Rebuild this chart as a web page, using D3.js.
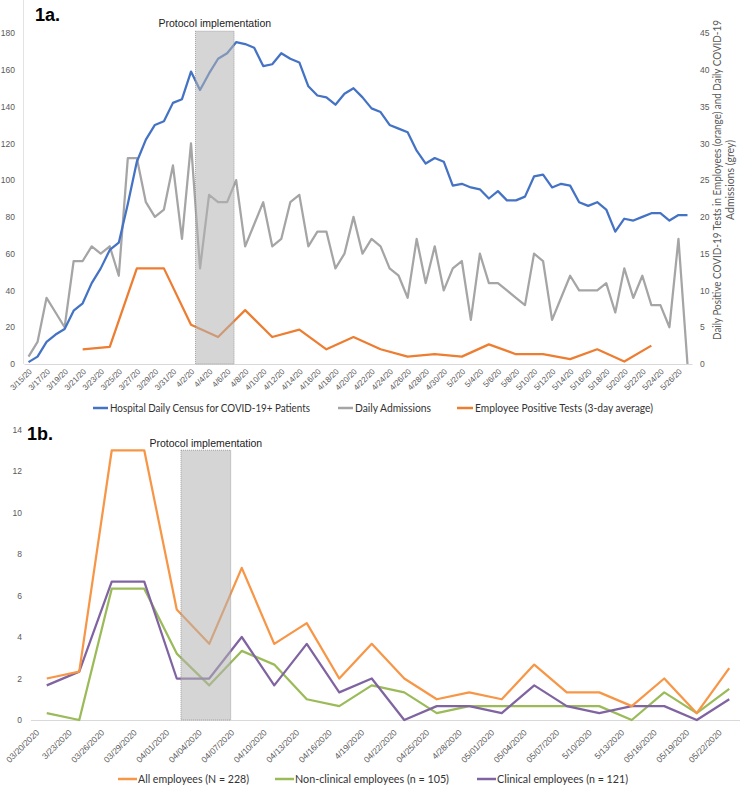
<!DOCTYPE html>
<html>
<head>
<meta charset="utf-8">
<script src="https://cdn.jsdelivr.net/npm/d3@7"></script>
<style>
  body { margin: 0; background: #fff; }
  svg { display: block; font-family: Lato, "Open Sans", sans-serif; }
  .tick text { fill: #595959; }
  .axis path.domain { stroke: #d9d9d9; }
</style>
</head>
<body>
<svg id="chart" width="740" height="788"></svg>
<script>
// ---- 1a data ----
var days = [
  "3/15/20","3/16/20","3/17/20","3/18/20","3/19/20","3/20/20","3/21/20","3/22/20","3/23/20","3/24/20",
  "3/25/20","3/26/20","3/27/20","3/28/20","3/29/20","3/30/20","3/31/20",
  "4/1/20","4/2/20","4/3/20","4/4/20","4/5/20","4/6/20","4/7/20","4/8/20","4/9/20","4/10/20",
  "4/11/20","4/12/20","4/13/20","4/14/20","4/15/20","4/16/20","4/17/20","4/18/20","4/19/20","4/20/20",
  "4/21/20","4/22/20","4/23/20","4/24/20","4/25/20","4/26/20","4/27/20","4/28/20","4/29/20","4/30/20",
  "5/1/20","5/2/20","5/3/20","5/4/20","5/5/20","5/6/20","5/7/20","5/8/20","5/9/20","5/10/20",
  "5/11/20","5/12/20","5/13/20","5/14/20","5/15/20","5/16/20","5/17/20","5/18/20","5/19/20","5/20/20",
  "5/21/20","5/22/20","5/23/20","5/24/20","5/25/20","5/26/20","5/27/20"
];
var census = [
  1, 4, 12, 16, 19, 29, 33, 44, 52, 62,
  66, 87, 110, 122, 130, 132, 142,
  144, 159, 149, 158, 166, 169, 175, 174, 172, 162,
  163, 169, 166, 164, 151, 146, 145, 141, 147, 150,
  145, 139, 137, 130, 128, 126, 116, 109, 112, 110,
  97, 98, 96, 95, 90, 94, 89, 89, 91, 102,
  103, 96, 98, 97, 88, 86, 88, 84, 72, 79,
  78, 80, 82, 82, 78, 81, 81
];
var admissions = [
  1, 3, 9, 7, 5, 14, 14, 16, 15, 16,
  12, 28, 28, 22, 20, 21, 27,
  17, 30, 13, 23, 22, 22, 25, 16, 19, 22,
  16, 17, 22, 23, 16, 18, 18, 13, 15, 20,
  15, 17, 16, 13, 12, 9, 17, 11, 16, 10,
  13, 14, 6, 15, 11, 11, 10, 9, 8, 15,
  14, 6, 9, 12, 10, 10, 10, 11, 7, 13,
  9, 12, 8, 8, 5, 17, 0
];
var empDays = ["3/21/20","3/24/20","3/27/20","3/30/20","4/2/20","4/5/20","4/8/20","4/11/20",
  "4/14/20","4/17/20","4/20/20","4/23/20","4/26/20","4/29/20","5/2/20","5/5/20","5/8/20",
  "5/11/20","5/14/20","5/17/20","5/20/20","5/23/20"];
var empTests = [2, 2.33, 13, 13, 5.33, 3.67, 7.33, 3.67, 4.67, 2, 3.67, 2, 1, 1.33, 1, 2.67,
  1.33, 1.33, 0.67, 2, 0.33, 2.5];
var leftTicks = [0, 20, 40, 60, 80, 100, 120, 140, 160, 180];
var rightTicks = [0, 5, 10, 15, 20, 25, 30, 35, 40, 45];
var dayTicks = days.filter(function(d, i) { return i % 2 === 0; });
var legendA = ["Hospital Daily Census for COVID-19+ Patients", "Daily Admissions", "Employee Positive Tests (3-day average)"];

// ---- 1b data ----
var dates2 = ["03/20/2020","3/23/2020","03/26/2020","03/29/2020","04/01/2020","04/04/2020",
  "04/07/2020","04/10/2020","04/13/2020","04/16/2020","4/19/2020","04/22/2020","04/25/2020",
  "4/28/2020","05/01/2020","05/04/2020","05/07/2020","5/10/2020","5/13/2020","05/16/2020",
  "05/19/2020","05/22/2020"];
var allEmp      = [2, 2.33, 13, 13, 5.33, 3.67, 7.33, 3.67, 4.67, 2, 3.67, 2, 1, 1.33, 1, 2.67, 1.33, 1.33, 0.67, 2, 0.33, 2.5];
var nonClinical = [0.33, 0, 6.33, 6.33, 3.2, 1.67, 3.33, 2.67, 1, 0.67, 1.67, 1.33, 0.33, 0.67, 0.67, 0.67, 0.67, 0.67, 0, 1.33, 0.33, 1.5];
var clinical    = [1.67, 2.33, 6.67, 6.67, 2, 2, 4, 1.67, 3.67, 1.33, 2, 0, 0.67, 0.67, 0.33, 1.67, 0.67, 0.33, 0.67, 0.67, 0, 1];
var yTicks2 = [0, 2, 4, 6, 8, 10, 12, 14];
var legendB = ["All employees (N = 228)", "Non-clinical employees (n = 105)", "Clinical employees (n = 121)"];

var svg = d3.select("#chart");

// ================= 1a =================
var x = d3.scaleBand().domain(days).range([24, 692]),
    yL = d3.scaleLinear().domain([0, 180]).range([364, 33]),
    yR = d3.scaleLinear().domain([0, 45]).range([364, 33]);
var bw = x.bandwidth();
function cx(d) { return x(d) + bw / 2; }

var g1 = svg.append("g");

g1.append("line")
    .attr("x1", 23.5).attr("x2", 23.5).attr("y1", 0).attr("y2", 364)
    .attr("stroke", "#e3e3e3");

g1.append("g")
    .attr("class", "axis")
    .attr("transform", "translate(0,364)")
    .call(d3.axisBottom(x).tickValues(dayTicks).tickSize(0).tickSizeOuter(0))
    .selectAll("text")
      .attr("y", 0).attr("dy", "0.35em")
      .attr("text-anchor", "end")
      .attr("font-size", 8)
      .attr("transform", "translate(2,6) rotate(-45)");

var axL = g1.append("g")
    .attr("transform", "translate(24,0)")
    .call(d3.axisLeft(yL).tickValues(leftTicks).tickSize(0).tickPadding(9));
axL.select(".domain").remove();
axL.selectAll("text").attr("font-size", 8.5);

var axR = g1.append("g")
    .attr("transform", "translate(692,0)")
    .call(d3.axisRight(yR).tickValues(rightTicks).tickSize(0).tickPadding(8));
axR.select(".domain").remove();
axR.selectAll("text").attr("font-size", 8.5);

var lineL = d3.line().x(function(d, i) { return cx(days[i]); }).y(function(d) { return yL(d); });
var lineR = d3.line().x(function(d, i) { return cx(days[i]); }).y(function(d) { return yR(d); });
var lineEmp = d3.line().x(function(d, i) { return cx(empDays[i]); }).y(function(d) { return yR(d); });

g1.append("path").datum(admissions)
    .attr("d", lineR).attr("fill", "none")
    .attr("stroke", "#a5a5a5").attr("stroke-width", 2.25).attr("stroke-linejoin", "round");
g1.append("path").datum(empTests)
    .attr("d", lineEmp).attr("fill", "none")
    .attr("stroke", "#ed7d31").attr("stroke-width", 2.25).attr("stroke-linejoin", "round");
g1.append("path").datum(census)
    .attr("d", lineL).attr("fill", "none")
    .attr("stroke", "#4472c4").attr("stroke-width", 2.25).attr("stroke-linejoin", "round");

// protocol shade
var s1 = x("4/3/20"), e1 = x("4/7/20") + bw * 0.27;
g1.append("rect")
    .attr("x", s1).attr("y", yL(181))
    .attr("width", e1 - s1).attr("height", yL(0) - yL(181))
    .attr("fill", "#b3b3b3").attr("fill-opacity", 0.55)
    .attr("stroke", "#8c8c8c").attr("stroke-width", 0.75).attr("stroke-dasharray", "1,1");
g1.append("text")
    .attr("x", (s1 + e1) / 2).attr("y", 27)
    .attr("text-anchor", "middle")
    .attr("font-family", "Liberation Sans, Arial, sans-serif")
    .attr("font-size", 10.5).attr("fill", "#222")
    .text("Protocol implementation");

g1.append("text")
    .attr("x", 35).attr("y", 21)
    .attr("font-family", "Liberation Sans, Arial, sans-serif")
    .attr("font-weight", "bold").attr("font-size", 18)
    .text("1a.");

// right axis title
var rt = g1.append("text")
    .attr("transform", "translate(721,180) rotate(-90)")
    .attr("text-anchor", "middle")
    .attr("font-size", 10.5).attr("fill", "#595959");
rt.append("tspan").attr("x", 0).attr("y", 0)
    .attr("textLength", 320).attr("lengthAdjust", "spacingAndGlyphs")
    .text("Daily Positive COVID-19 Tests in Employees (orange) and Daily COVID-19");
rt.append("tspan").attr("x", 0).attr("y", 13)
    .attr("textLength", 80).attr("lengthAdjust", "spacingAndGlyphs")
    .text("Admissions (grey)");

// legend 1a
var legA = [
  {x: 93, len: 15, w: 200, c: "#4472c4"},
  {x: 338, len: 15, w: 76, c: "#a5a5a5"},
  {x: 457, len: 16, w: 178, c: "#ed7d31"}
];
legA.forEach(function(l, i) {
  g1.append("line").attr("x1", l.x).attr("x2", l.x + l.len).attr("y1", 408).attr("y2", 408)
      .attr("stroke", l.c).attr("stroke-width", 2.5);
  g1.append("text").attr("x", l.x + l.len + 2).attr("y", 412)
      .attr("font-size", 11).attr("fill", "#333")
      .attr("textLength", l.w).attr("lengthAdjust", "spacingAndGlyphs")
      .text(legendA[i]);
});

// ================= 1b =================
var x2 = d3.scaleBand().domain(dates2).range([30.5, 745.5]),
    y2 = d3.scaleLinear().domain([0, 14]).range([720, 429.5]);
var bw2 = x2.bandwidth();
function cx2(d) { return x2(d) + bw2 / 2; }

var g2 = svg.append("g");

g2.append("g")
    .attr("class", "axis")
    .attr("transform", "translate(0,720)")
    .call(d3.axisBottom(x2).tickSize(0).tickSizeOuter(0))
    .selectAll("text")
      .attr("y", 0).attr("dy", "0.35em")
      .attr("text-anchor", "end")
      .attr("font-size", 8.5)
      .attr("transform", "translate(-9,11) rotate(-45)");

var ax2 = g2.append("g")
    .attr("transform", "translate(30,0)")
    .call(d3.axisLeft(y2).tickValues(yTicks2).tickSize(0).tickPadding(8));
ax2.select(".domain").remove();
ax2.selectAll("text").attr("font-size", 8.5);

var line2 = d3.line().x(function(d, i) { return cx2(dates2[i]); }).y(function(d) { return y2(d); });

[[nonClinical, "#9bbb59"], [clinical, "#8064a2"], [allEmp, "#f79646"]].forEach(function(s) {
  g2.append("path").datum(s[0])
      .attr("d", line2).attr("fill", "none")
      .attr("stroke", s[1]).attr("stroke-width", 2.25).attr("stroke-linejoin", "round");
});

var s2 = x2("04/01/2020") + bw2 * 0.63, e2 = x2("04/07/2020") + bw2 * 0.16;
g2.append("rect")
    .attr("x", s2).attr("y", y2(13))
    .attr("width", e2 - s2).attr("height", y2(0) - y2(13))
    .attr("fill", "#b3b3b3").attr("fill-opacity", 0.55)
    .attr("stroke", "#8c8c8c").attr("stroke-width", 0.75).attr("stroke-dasharray", "1,1");
g2.append("text")
    .attr("x", (s2 + e2) / 2).attr("y", 447)
    .attr("text-anchor", "middle")
    .attr("font-family", "Liberation Sans, Arial, sans-serif")
    .attr("font-size", 10.5).attr("fill", "#222")
    .text("Protocol implementation");

g2.append("text")
    .attr("x", 27).attr("y", 440)
    .attr("font-family", "Liberation Sans, Arial, sans-serif")
    .attr("font-weight", "bold").attr("font-size", 18)
    .text("1b.");

var legB = [
  {x: 118, len: 19, w: 111, c: "#f79646"},
  {x: 275, len: 19, w: 154, c: "#9bbb59"},
  {x: 477, len: 19, w: 131, c: "#8064a2"}
];
legB.forEach(function(l, i) {
  g2.append("line").attr("x1", l.x).attr("x2", l.x + l.len).attr("y1", 779).attr("y2", 779)
      .attr("stroke", l.c).attr("stroke-width", 2.5);
  g2.append("text").attr("x", l.x + l.len + 1).attr("y", 783)
      .attr("font-size", 11.5).attr("fill", "#333")
      .attr("textLength", l.w).attr("lengthAdjust", "spacingAndGlyphs")
      .text(legendB[i]);
});
</script>
</body>
</html>
